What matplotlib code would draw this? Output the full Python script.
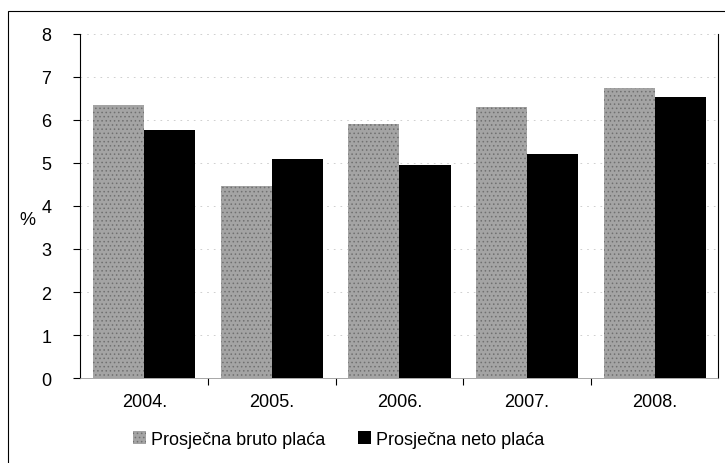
import matplotlib.pyplot as plt
import numpy as np
from matplotlib.patches import Rectangle

plt.rcParams['font.family'] = ['Liberation Sans', 'DejaVu Sans']
plt.rcParams['hatch.linewidth'] = 0.6

# Real growth rates, %
years = ["2004.", "2005.", "2006.", "2007.", "2008."]
bruto = [6.35, 4.47, 5.9, 6.3, 6.75]
neto = [5.77, 5.08, 4.95, 5.2, 6.53]

x = np.arange(len(years))
w = 0.4

fig = plt.figure(figsize=(7.25, 4.64), dpi=100)
ax = fig.add_axes([0.111, 0.183, 0.880, 0.742])

ax.bar(x - w / 2, bruto, w, color="#a4a4a4", edgecolor="#707070", hatch="....",
       linewidth=0, label="Prosječna bruto plaća")
ax.bar(x + w / 2, neto, w, color="black", linewidth=0, label="Prosječna neto plaća")

ax.set_xlim(-0.5, len(years) - 0.5)
ax.set_ylim(0, 8)
ax.set_yticks(range(0, 9))
ax.set_xticks(x)
ax.set_xticklabels(years)
ax.set_xticks(np.arange(0.5, len(years) - 1, 1), minor=True)
ax.tick_params(axis="x", which="major", length=0, pad=11, labelsize=13)
ax.tick_params(axis="x", which="minor", length=5, width=0.8, direction="out")
ax.tick_params(axis="y", length=5, width=0.8, labelsize=13, pad=16)

# faint dotted grid like the scan
for v in range(1, 9):
    ax.axhline(v, color="#c8c8c8", lw=0.6, ls=(0, (2, 6)), zorder=0)

ax.spines["top"].set_visible(False)
ax.spines["right"].set_color("black")
ax.spines["left"].set_linewidth(0.8)
ax.spines["bottom"].set_color("#999999")
ax.spines["bottom"].set_linewidth(0.6)

fig.text(0.027, 0.525, "%", fontsize=13, ha="left", va="center")

ax.legend(loc="center", bbox_to_anchor=(0.405, -0.177), ncol=2, frameon=False,
          fontsize=13, handlelength=0.7, handleheight=0.7, handletextpad=0.3,
          columnspacing=1.8)

# outer frame of the scanned figure
fig.patches.append(Rectangle((0.011, -0.01), 0.99, 0.985, transform=fig.transFigure,
                             fill=False, edgecolor="black", lw=0.8))

fig.savefig("out.png", dpi=100)
